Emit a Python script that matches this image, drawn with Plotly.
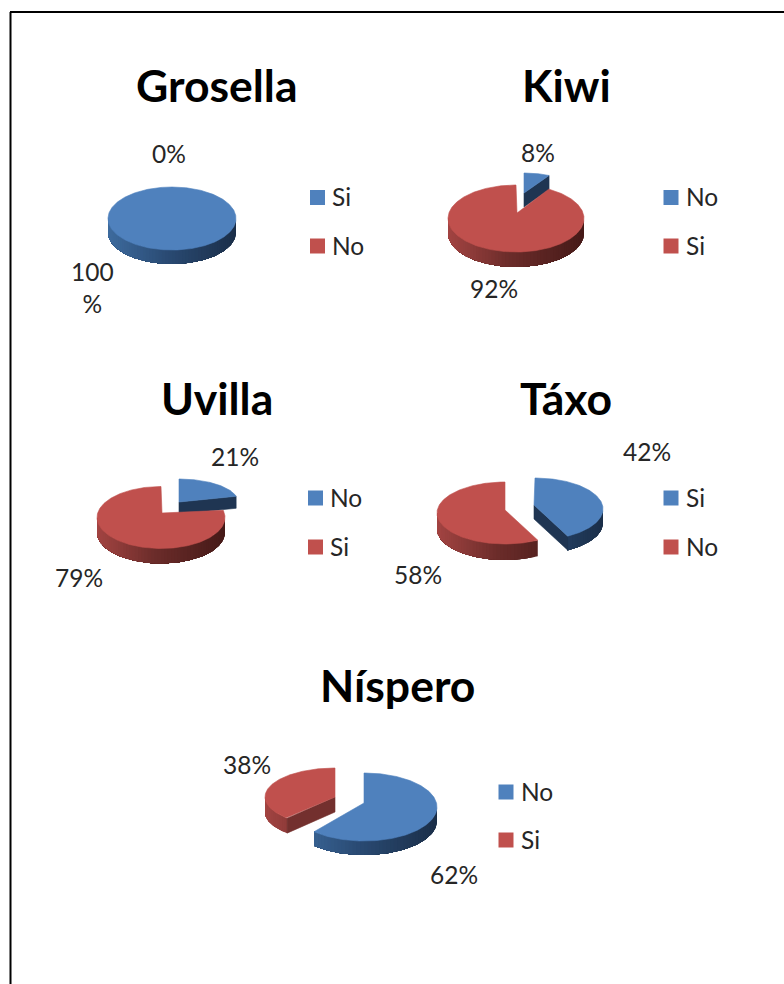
import numpy as np
import plotly.graph_objects as go

# ---- data ----
grosella_labels = ["Si", "No"]
grosella_values = [100, 0]
kiwi_labels = ["No", "Si"]
kiwi_values = [8, 92]
uvilla_labels = ["No", "Si"]
uvilla_values = [21, 79]
taxo_labels = ["Si", "No"]
taxo_values = [42, 58]
nispero_labels = ["No", "Si"]
nispero_values = [62, 38]
titles = ["Grosella", "Kiwi", "Uvilla", "Táxo", "Níspero"]

# ---- styles ----
TOP = ["#4f81bd", "#c0504d"]
FACE = ["#1f3552", "#73302e"]
WALL = [
    [(0.0, (62, 107, 158)), (0.45, (42, 75, 116)), (1.0, (27, 47, 73))],
    [(0.0, (163, 68, 66)), (0.45, (107, 44, 42)), (1.0, (70, 26, 24))],
]
TEXT = "#262626"
TITLE_FONT = dict(family="Lato", size=44.5, color="#000000", weight="bold")
LABEL_FONT = dict(family="Lato", size=24.5, color=TEXT)
LEGEND_FONT = dict(family="Lato", size=24.5, color=TEXT)

# ---- layout (page geometry in px): one spec per pie, one ellipse per slice ----
PIES = [
    dict(labels=grosella_labels, values=grosella_values, title=titles[0], title_xy=(217, 84),
         slices=[dict(c=(172, 218.5), r=(64, 31.5), apex=(172, 218.5), d=14),
                 dict(c=(172, 218.5), r=(64, 31.5), apex=(172, 218.5), d=14)],
         order=[0], label_xy=[(92, 287), (169, 153)], legend_x=317.5, legend_y=(197.5, 246), text_x=330),
    dict(labels=kiwi_labels, values=kiwi_values, title=titles[1], title_xy=(566, 84),
         slices=[dict(c=(524, 193), r=(52, 20), apex=(524, 193), d=14),
                 dict(c=(516, 218.5), r=(68, 33.5), apex=(517, 213), d=15)],
         order=[0, 1], label_xy=[(538, 152), (494, 288)], legend_x=671, legend_y=(197.5, 246), text_x=683.5),
    dict(labels=uvilla_labels, values=uvilla_values, title=titles[2], title_xy=(216.5, 397),
         slices=[dict(c=(179, 502), r=(59, 23), apex=(179, 502), d=12),
                 dict(c=(161, 517.5), r=(64, 31), apex=(162, 513), d=15)],
         order=[0, 1], label_xy=[(234.5, 456), (79, 577)], legend_x=315.5, legend_y=(498, 547), text_x=328),
    dict(labels=taxo_labels, values=taxo_values, title=titles[3], title_xy=(566, 397),
         slices=[dict(c=(535, 509), r=(68, 31), apex=(534, 505), d=14),
                 dict(c=(505, 513), r=(68, 31), apex=(505, 510), d=16)],
         order=[0, 1], label_xy=[(647, 451), (418, 574)], legend_x=671, legend_y=(498, 547), text_x=683.5),
    dict(labels=nispero_labels, values=nispero_values, title=titles[4], title_xy=(397.5, 684),
         slices=[dict(c=(364, 807), r=(73, 34), apex=(364, 803), d=14),
                 dict(c=(335, 797), r=(70, 29), apex=(335, 797), d=15)],
         order=[1, 0], label_xy=[(454, 874), (247, 764)], legend_x=506, legend_y=(792, 840), text_x=519),
]


def wall_color(stops, t):
    t = min(max(t, 0.0), 1.0)
    for (t0, c0), (t1, c1) in zip(stops, stops[1:]):
        if t <= t1:
            f = (t - t0) / (t1 - t0)
            return "rgb(%d,%d,%d)" % tuple(round(a + (b - a) * f) for a, b in zip(c0, c1))
    return "rgb(%d,%d,%d)" % stops[-1][1]


def poly(xs, ys, color, width=0.6):
    return go.Scatter(x=list(xs), y=list(ys), mode="lines", fill="toself", fillcolor=color,
                      line=dict(color=color, width=width), hoverinfo="skip", showlegend=False)


def rim(spec, deg):
    a = np.radians(deg)
    return spec["c"][0] + spec["r"][0] * np.sin(a), spec["c"][1] - spec["r"][1] * np.cos(a)


def slice_traces(spec, a0, a1, i):
    out = []
    d = spec["d"]
    ax, ay = spec["apex"]
    xmin, xmax = spec["c"][0] - spec["r"][0], spec["c"][0] + spec["r"][0]
    # outer wall: the rim part that faces the viewer (90..270 deg), painted so
    # each later band overlaps the rest of the wall and no seams show
    w0, w1 = max(a0, 90), min(a1, 270)
    if w1 > w0:
        edges = np.arange(w0, w1, 3.0).tolist()
        for e0 in edges:
            deg = np.linspace(e0, w1, max(int(w1 - e0), 1) + 1)
            xs, ys = rim(spec, deg)
            x1, _ = rim(spec, min(e0 + 3.0, w1))
            x0, _ = rim(spec, e0)
            t = ((x0 + x1) / 2 - xmin) / (xmax - xmin)
            out.append(poly([*xs, *xs[::-1], xs[0]], [*ys, *(ys[::-1] + d), ys[0]],
                            wall_color(WALL[i], t), width=0))
    # cut faces that look toward the viewer
    full = a1 - a0 >= 359.9
    if not full:
        for ang, visible in ((a0, 180 < a0 % 360 < 360), (a1, 0 < a1 % 360 < 180)):
            if visible:
                x, y = rim(spec, ang)
                out.append(poly([ax, x, x, ax, ax], [ay, y, y + d, ay + d, ay], FACE[i]))
    # top surface
    deg = np.linspace(a0, a1, max(int(a1 - a0), 2) + 1)
    xs, ys = rim(spec, deg)
    if full:
        out.append(poly(xs, ys, TOP[i]))
    else:
        out.append(poly([ax, *xs, ax], [ay, *ys, ay], TOP[i]))
    return out


fig = go.Figure()
annotations = []
for pie in PIES:
    total = sum(pie["values"])
    bounds = np.concatenate([[0], np.cumsum(pie["values"]) * 360.0 / total])
    for i in pie["order"]:
        for tr in slice_traces(pie["slices"][i], bounds[i], bounds[i + 1], i):
            fig.add_trace(tr)
    annotations.append(dict(x=pie["title_xy"][0], y=pie["title_xy"][1], text=pie["title"], font=TITLE_FONT))
    for v, xy, name, ly, i in zip(pie["values"], pie["label_xy"], pie["labels"], pie["legend_y"], range(2)):
        txt = "100<br>%" if v == 100 else f"{v}%"
        annotations.append(dict(x=xy[0], y=xy[1], text=txt, font=LABEL_FONT))
        fig.add_trace(go.Scatter(x=[pie["legend_x"]], y=[ly], mode="markers",
                                 marker=dict(symbol="square", size=15, color=TOP[i]),
                                 hoverinfo="skip", showlegend=False))
        annotations.append(dict(x=pie["text_x"], y=ly - 1, text=name, font=LEGEND_FONT, xanchor="left"))

for a in annotations:
    a.update(xref="x", yref="y", showarrow=False, yanchor="middle")
    a.setdefault("xanchor", "center")

fig.update_layout(
    width=784, height=984, margin=dict(l=0, r=0, t=0, b=0),
    paper_bgcolor="white", plot_bgcolor="white", annotations=annotations,
    xaxis=dict(range=[0, 784], visible=False, fixedrange=True),
    yaxis=dict(range=[984, 0], visible=False, fixedrange=True),
    shapes=[
        dict(type="line", x0=10.5, x1=10.5, y0=12, y1=984, line=dict(color="black", width=2)),
        dict(type="line", x0=10, x1=784, y0=12, y1=12, line=dict(color="black", width=2)),
    ],
)
fig.write_html("out.html", config=dict(displayModeBar=False),
               post_script="document.body.style.margin='0';document.body.style.overflow='hidden';")
